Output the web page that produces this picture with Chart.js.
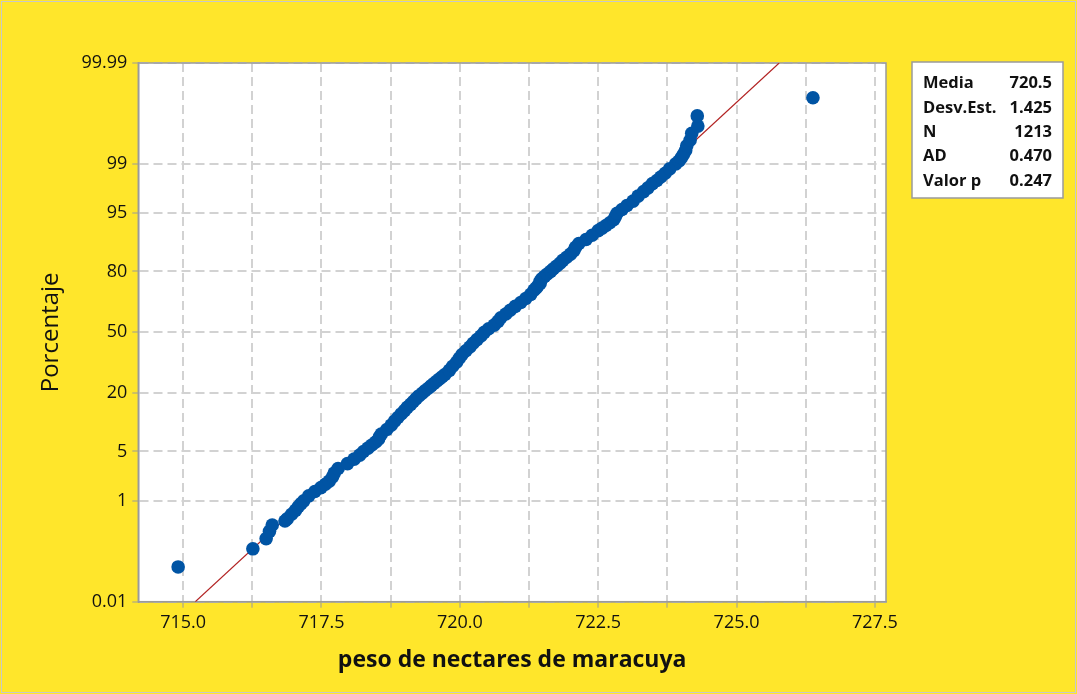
<!DOCTYPE html>
<html>
<head>
<meta charset="utf-8">
<script src="https://cdn.jsdelivr.net/npm/chart.js"></script>
<style>
  body { margin: 0; background: #FFE62B; }
  canvas { display: block; }
</style>
</head>
<body>
<canvas id="myChart" width="1077" height="694"></canvas>
<script>
// Datos: peso (x) y porcentaje acumulado (y)
var weights = [714.91, 716.26, 716.50, 716.56, 716.61, 716.84, 716.88, 716.96, 717.03, 717.08,
  717.13, 717.18, 717.27, 717.38, 717.49, 717.57, 717.64, 717.70, 717.73, 717.80,
  717.97, 718.09, 718.19, 718.26, 718.34, 718.41, 718.48, 718.53, 718.55, 718.58,
  718.68, 718.76, 718.82, 718.88, 718.94, 719.00, 719.05, 719.11, 719.16, 719.21,
  719.26, 719.32, 719.37, 719.43, 719.48, 719.53, 719.58, 719.63, 719.68, 719.73,
  719.81, 719.87, 719.94, 719.99, 720.04, 720.11, 720.18, 720.24, 720.31, 720.38,
  720.44, 720.52, 720.62, 720.69, 720.74, 720.83, 720.91, 721.00, 721.10, 721.19,
  721.28, 721.34, 721.38, 721.41, 721.45, 721.45, 721.48, 721.53, 721.58, 721.64,
  721.69, 721.75, 721.81, 721.86, 721.93, 722.00, 722.06, 722.09, 722.15, 722.28,
  722.39, 722.50, 722.57, 722.64, 722.71, 722.78, 722.81, 722.84, 722.93, 723.02,
  723.13, 723.22, 723.32, 723.40, 723.48, 723.56, 723.63, 723.71, 723.79, 723.90,
  723.96, 724.00, 724.04, 724.08, 724.10, 724.16, 724.19, 724.30, 724.29, 726.38];
var percents = [0.06, 0.14, 0.22, 0.30, 0.39, 0.46, 0.5, 0.6, 0.7, 0.8,
  0.9, 1.0, 1.2, 1.4, 1.6, 1.8, 2.0, 2.3, 2.6, 3.0,
  3.5, 4.0, 4.5, 5.0, 5.5, 6, 6.5, 7, 7.5, 8,
  9, 10, 11, 12, 13, 14, 15, 16, 17, 18,
  19, 20, 21, 22, 23, 24, 25, 26, 27, 28,
  30, 32, 34, 36, 38, 40, 42, 44, 46, 48,
  50, 52, 54, 56, 58, 60, 62, 64, 66, 68,
  70, 72, 73, 74, 75, 76, 77, 78, 79, 80,
  81, 82, 83, 84, 85, 86, 87, 88, 89, 90,
  91, 92, 92.5, 93, 93.5, 94, 94.5, 95, 95.5, 96,
  96.5, 97, 97.4, 97.7, 98, 98.2, 98.4, 98.6, 98.8, 99.0,
  99.1, 99.2, 99.3, 99.4, 99.5, 99.6, 99.7, 99.78, 99.86, 99.94];

// Recta de ajuste (extremos)
var fitX = [715.22, 725.77];
var fitY = [0.01, 99.99];

// Marcas de los ejes
var xTicks = [715, 716.25, 717.5, 718.75, 720, 721.25, 722.5, 723.75, 725, 726.25, 727.5];
var yTicks = [0.01, 1, 5, 20, 50, 80, 95, 99, 99.99];

// Cuadro de estadisticos
var statLabels = ["Media", "Desv.Est.", "N", "AD", "Valor p"];
var statValues = ["720.5", "1.425", "1213", "0.470", "0.247"];

// Inversa de la normal (Acklam), para la escala de probabilidad
function probit(p) {
  var a = [-39.69683028665376, 220.9460984245205, -275.9285104469687, 138.3577518672690, -30.66479806614716, 2.506628277459239];
  var b = [-54.47609879822406, 161.5858368580409, -155.6989798598866, 66.80131188771972, -13.28068155288572];
  var c = [-0.007784894002430293, -0.3223964580411365, -2.400758277161838, -2.549732539343734, 4.374664141464968, 2.938163982698783];
  var d = [0.007784695709041462, 0.3224671290700398, 2.445134137142996, 3.754408661907416];
  var q, r;
  if (p < 0.02425) {
    q = Math.sqrt(-2 * Math.log(p));
    return (((((c[0]*q+c[1])*q+c[2])*q+c[3])*q+c[4])*q+c[5]) / ((((d[0]*q+d[1])*q+d[2])*q+d[3])*q+1);
  }
  if (p > 1 - 0.02425) {
    q = Math.sqrt(-2 * Math.log(1 - p));
    return -(((((c[0]*q+c[1])*q+c[2])*q+c[3])*q+c[4])*q+c[5]) / ((((d[0]*q+d[1])*q+d[2])*q+d[3])*q+1);
  }
  q = p - 0.5; r = q * q;
  return (((((a[0]*r+a[1])*r+a[2])*r+a[3])*r+a[4])*r+a[5])*q / (((((b[0]*r+b[1])*r+b[2])*r+b[3])*r+b[4])*r+1);
}

// Escala de probabilidad normal (valores en porcentaje)
class ProbabilityScale extends Chart.LinearScale {
  buildTicks() {
    return yTicks.map(function (v) { return { value: v }; });
  }
  configure() {
    super.configure();
    this._zMin = probit(this.min / 100);
    this._zRange = probit(this.max / 100) - this._zMin;
  }
  getPixelForValue(value) {
    return this.getPixelForDecimal((probit(value / 100) - this._zMin) / this._zRange);
  }
}
ProbabilityScale.id = 'probability';
Chart.register(ProbabilityScale);

Chart.defaults.font.family = "'Open Sans', sans-serif";
Chart.defaults.color = '#111';

var bgPlugin = {
  id: 'bg',
  beforeDraw: function (chart) {
    var ctx = chart.ctx, a = chart.chartArea;
    ctx.save();
    ctx.fillStyle = '#FFE62B';
    ctx.fillRect(0, 0, chart.width, chart.height);
    ctx.strokeStyle = '#c8c8c8';
    ctx.lineWidth = 1;
    ctx.strokeRect(1.5, 1.5, chart.width - 3, chart.height - 3);
    ctx.fillStyle = '#ffffff';
    ctx.fillRect(a.left, a.top, a.right - a.left, a.bottom - a.top);
    ctx.restore();
  },
  beforeDatasetsDraw: function (chart) {
    var ctx = chart.ctx, a = chart.chartArea;
    ctx.save();
    ctx.strokeStyle = '#9a9a9a';
    ctx.lineWidth = 1.5;
    ctx.strokeRect(a.left, a.top, a.right - a.left, a.bottom - a.top);
    ctx.restore();
  },
  afterDraw: function (chart) {
    var ctx = chart.ctx;
    ctx.save();
    ctx.fillStyle = '#ffffff';
    ctx.strokeStyle = '#9a9a9a';
    ctx.lineWidth = 1.5;
    ctx.fillRect(912, 62, 151, 136);
    ctx.strokeRect(912, 62, 151, 136);
    ctx.fillStyle = '#111';
    ctx.font = "bold 16.5px 'Open Sans', sans-serif";
    ctx.textBaseline = 'middle';
    for (var i = 0; i < statLabels.length; i++) {
      var y = 83.5 + i * 24.4;
      ctx.textAlign = 'left';
      ctx.fillText(statLabels[i], 923, y);
      ctx.textAlign = 'right';
      ctx.fillText(statValues[i], 1052, y);
    }
    ctx.restore();
  }
};

var ctx = document.getElementById("myChart").getContext("2d");
const probPlot = new Chart(ctx, {
  type: 'scatter',
  data: {
    datasets: [
      {
        label: 'peso',
        data: weights.map(function (w, i) { return { x: w, y: percents[i] }; }),
        pointRadius: 6.8,
        pointBackgroundColor: '#0054A4',
        pointBorderWidth: 0,
        showLine: false
      },
      {
        label: 'ajuste',
        data: fitX.map(function (x, i) { return { x: x, y: fitY[i] }; }),
        showLine: true,
        borderColor: '#B22222',
        borderWidth: 1.2,
        pointRadius: 0
      }
    ]
  },
  options: {
    responsive: false,
    devicePixelRatio: 1,
    animation: false,
    events: [],
    layout: { padding: { top: 63, right: 191, bottom: 0, left: 0 } },
    plugins: { legend: { display: false }, tooltip: { enabled: false } },
    scales: {
      x: {
        type: 'linear',
        min: 714.19,
        max: 727.70,
        bounds: 'data',
        afterBuildTicks: function (scale) {
          scale.ticks = xTicks.map(function (v) { return { value: v }; });
        },
        afterFit: function (scale) { scale.height = 92.3; },
        ticks: {
          autoSkip: false,
          maxRotation: 0,
          padding: 4,
          font: { size: 18 },
          color: '#111',
          callback: function (v) { return v % 2.5 === 0 ? v.toFixed(1) : ''; }
        },
        grid: { color: '#d2d2d2', lineWidth: 2, tickLength: 6, tickColor: '#9a9a9a', tickWidth: 1 },
        border: { display: true, color: '#9a9a9a', width: 1.5, dash: [9, 5] },
        title: {
          display: true,
          text: 'peso de nectares de maracuya',
          font: { size: 23, weight: 'bold' },
          color: '#111',
          padding: { top: 0, bottom: 20 }
        }
      },
      y: {
        type: 'probability',
        min: 0.01,
        max: 99.99,
        afterFit: function (scale) { scale.width = 138.3; },
        ticks: {
          autoSkip: false,
          padding: 5,
          font: { size: 18 },
          color: '#111',
          callback: function (v) { return String(v); }
        },
        grid: { color: '#d2d2d2', lineWidth: 2, tickLength: 6, tickColor: '#9a9a9a', tickWidth: 1 },
        border: { display: true, color: '#9a9a9a', width: 1.5, dash: [9, 5] },
        title: {
          display: true,
          text: 'Porcentaje',
          font: { size: 24 },
          color: '#111',
          padding: { top: 37, bottom: 0 }
        }
      }
    }
  },
  plugins: [bgPlugin]
});
</script>
</body>
</html>
